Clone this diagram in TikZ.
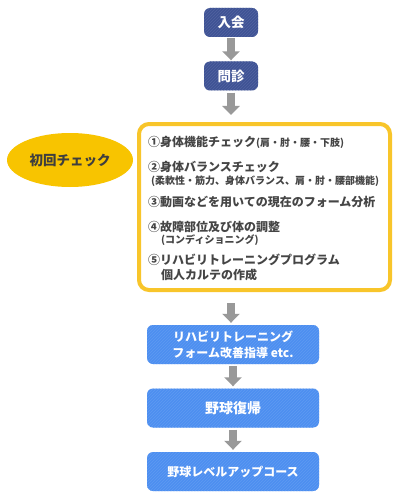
\documentclass[tikz,border=0pt]{standalone}
\usepackage{fontspec}
\setmainfont{Noto Sans CJK JP}
\usetikzlibrary{shapes.geometric,arrows.meta,patterns}
\definecolor{navybox}{HTML}{3F5395}
\definecolor{bluebox}{HTML}{4D8FF0}
\definecolor{checkyellow}{HTML}{F8C52A}
\definecolor{ovalyellow}{HTML}{F8C400}
\definecolor{arrowgray}{HTML}{999999}
\definecolor{itemgray}{HTML}{454545}
\tikzset{
  navystep/.style={rectangle,rounded corners=6pt,fill=navybox,text=white,inner sep=0pt,
    minimum width=54pt,minimum height=29pt,font=\bfseries\fontsize{13.5}{16}\selectfont,
    postaction={pattern=north east lines,pattern color=white!10!navybox}},
  bluestep/.style={rectangle,rounded corners=6pt,fill=bluebox,text=white,inner sep=0pt,
    minimum width=172pt,minimum height=39pt,align=center,
    postaction={pattern=north east lines,pattern color=white!10!bluebox}},
  flowarrow/.style={draw=arrowgray,line width=8pt,-{Triangle[length=9pt,width=17pt]}},
  checkitem/.style={anchor=west,inner sep=0pt,text=itemgray,font=\bfseries\fontsize{12}{14}\selectfont},
  checknote/.style={anchor=west,inner sep=0pt,text=itemgray,font=\bfseries\fontsize{10}{12}\selectfont}
}
\begin{document}
\begin{tikzpicture}[x=1pt,y=-1pt]
  \useasboundingbox[fill=white] (0,0) rectangle (400,500);
  \node[navystep] (nyukai) at (231,22.5) {入会};
  \node[navystep] (monshin) at (231,76) {問診};
  \node[draw=checkyellow,line width=4pt,rounded corners=10pt,fill=white,minimum width=251pt,minimum height=166pt] (checkframe) at (264.5,207) {};
  \node[ellipse,fill=ovalyellow,minimum width=126pt,minimum height=54pt,text=itemgray!90!black,font=\bfseries\fontsize{13.5}{16}\selectfont] (first) at (70,160) {初回チェック};
  \node[checkitem] (item1) at (148,142) {①身体機能チェック{\fontsize{10}{12}\selectfont(肩・肘・腰・下肢)}};
  \node[checkitem] (item2) at (148,167) {②身体バランスチェック};
  \node[checknote] (item2b) at (151,181) {(柔軟性・筋力、身体バランス、肩・肘・腰部機能)};
  \node[checkitem] (item3) at (148,202) {③動画などを用いての現在のフォーム分析};
  \node[checkitem] (item4) at (148,227) {④故障部位及び体の調整};
  \node[checknote] (item4b) at (161,240) {(コンディショニング)};
  \node[checkitem] (item5) at (148,260) {⑤リハビリトレーニングプログラム};
  \node[checkitem] (item5b) at (161,275) {個人カルテの作成};
  \node[bluestep,font=\bfseries\fontsize{12}{16}\selectfont] (rehab) at (233,344.5) {リハビリトレーニング\\フォーム改善指導 etc.};
  \node[bluestep,font=\bfseries\fontsize{14}{16}\selectfont] (comeback) at (233,408) {野球復帰};
  \node[bluestep,font=\bfseries\fontsize{12}{16}\selectfont] (levelup) at (233,471.5) {野球レベルアップコース};
  \coordinate (a2end) at (231,115);
  \coordinate (a3start) at (231,303);
  \draw[flowarrow,shorten <=1pt,shorten >=1pt] (nyukai) -- (monshin);
  \draw[flowarrow,shorten <=2pt] (monshin) -- (a2end);
  \draw[flowarrow,shorten >=2pt] (a3start) -- (a3start |- rehab.north);
  \draw[flowarrow,shorten <=2pt,shorten >=2pt] (rehab) -- (comeback);
  \draw[flowarrow,shorten <=2pt,shorten >=2pt] (comeback) -- (levelup);
\end{tikzpicture}
\end{document}
